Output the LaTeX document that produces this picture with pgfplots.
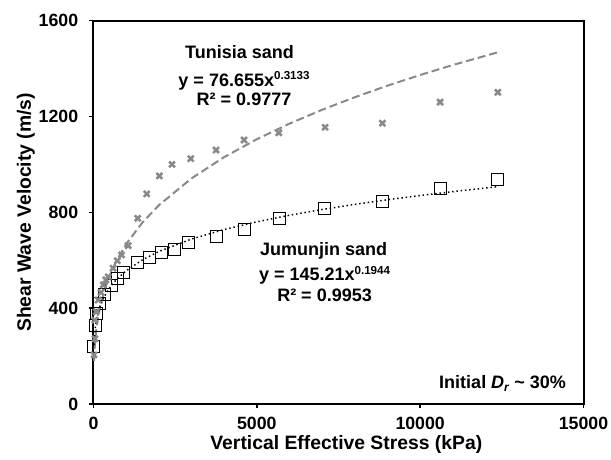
\documentclass[border=0pt]{standalone}
\usepackage{fontspec}
\setmainfont{Liberation Sans}
\usepackage{pgfplots}
\pgfplotsset{compat=1.18}
\definecolor{tgray}{RGB}{137,137,137}
\begin{document}
\begin{tikzpicture}
\path[use as bounding box] (-70.125pt,-42pt) rectangle (388.125pt,303pt);
\begin{axis}[
  scale only axis, width=367.5pt, height=287.5pt,
  xmin=0, xmax=15000, ymin=0, ymax=1600,
  xtick={0,5000,10000,15000}, ytick={0,400,800,1200,1600},
  scaled x ticks=false, scaled y ticks=false,
  /pgf/number format/1000 sep={},
  /pgf/number format/assume math mode=true,
  xtick pos=bottom, ytick pos=left, tick align=outside,
  major tick length=3pt,
  every tick/.style={black, line width=1.2pt},
  axis line style={black, line width=1.5pt},
  ticklabel style={font=\fontsize{13.3}{13.3}\selectfont\bfseries},
  yticklabel style={xshift=-5pt},
  xticklabel style={yshift=-3pt},
  xlabel={Vertical Effective Stress (kPa)},
  ylabel={Shear Wave Velocity (m/s)},
  label style={font=\fontsize{14.5}{14.5}\selectfont\bfseries},
  xlabel style={at={(axis description cs:0.516,-0.12)}, anchor=base},
  ylabel style={at={(axis description cs:-0.1276,0.5)}, anchor=base},
  clip=false,
]
% Jumunjin sand (squares)
\addplot[only marks, mark=square, mark size=4.5pt, black, line width=0.75pt] coordinates {
(15,239) (55,328) (90,377) (190,418) (345,455) (540,493) (740,524) (920,549)
(1353,589) (1699,611) (2088,633) (2486,643) (2915,675) (3751,700) (4608,729)
(5701,776) (7067,815) (8855,846) (10631,899) (12377,939)
};
% Tunisia sand (crosses)
\addplot[only marks, mark=x, mark size=3.1pt, tgray, line width=1.9pt] coordinates {
(15,205) (45,272) (40,350) (85,385) (140,434) (230,466) (300,497) (380,518)
(450,531) (600,567) (730,598) (860,622) (1060,661) (1353,775) (1629,877)
(2015,952) (2404,1000) (2976,1024) (3751,1060) (4608,1102) (5671,1132)
(7089,1155) (8843,1172) (10610,1260) (12377,1301)
};
% Tunisia trendline (dashed)
\addplot[tgray, line width=1.5pt, dash pattern=on 6pt off 3pt] coordinates {
(15,179.1) (25,210.2) (30,222.5) (50,261.1) (70,290.2) (100,324.4) (150,368.4)
(200,403.2) (300,457.7) (400,500.9) (550,553.5) (700,596.9) (1000,667.5)
(1500,757.8) (2000,829.4) (3000,941.7) (4000,1030.5) (5000,1105.1)
(6000,1170.2) (7000,1228.1) (8000,1280.5) (9000,1328.7) (10000,1373.2)
(11000,1414.9) (12400,1468.9)
};
% Jumunjin trendline (dotted)
\addplot[black, line width=1.1pt, dash pattern=on 1.1pt off 2.1pt] coordinates {
(15,245.8) (25,271.5) (30,281.3) (50,310.7) (70,331.6) (100,355.5) (150,384.6)
(200,406.8) (300,440.1) (400,465.4) (550,495.1) (700,518.9) (1000,556.2)
(1500,601.8) (2000,636.4) (3000,688.5) (4000,728.2) (5000,760.4)
(6000,787.9) (7000,811.9) (8000,833.2) (9000,852.5) (10000,870.2)
(11000,886.4) (12400,907.3)
};
\tikzset{ann/.style={anchor=base, font=\fontsize{13.5}{13.5}\selectfont\bfseries, inner sep=0pt}}
\node[ann] at (axis cs:4471,1440) {Tunisia sand};
\node[ann] at (axis cs:4608,1327) {y = 76.655x\raisebox{4.6pt}{\fontsize{8.7}{8.7}\selectfont 0.3133}};
\node[ann] at (axis cs:4608,1245) {R² = 0.9777};
\node[ann] at (axis cs:7043,618) {Jumunjin sand};
\node[ann] at (axis cs:7073,515) {y = 145.21x\raisebox{4.6pt}{\fontsize{8.7}{8.7}\selectfont 0.1944}};
\node[ann] at (axis cs:7073,427) {R² = 0.9953};
\node[ann] at (axis cs:12524,65.5) {Initial \textit{D}\raisebox{-2.5pt}{\fontsize{9}{9}\selectfont\textit{r}} \textasciitilde{} 30\%};
\end{axis}
\end{tikzpicture}
\end{document}
